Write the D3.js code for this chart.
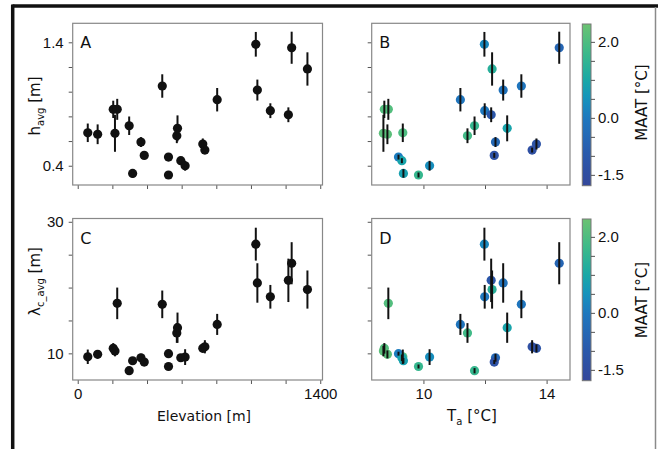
<!DOCTYPE html>
<html>
<head>
<meta charset="utf-8">
<script src="https://cdn.jsdelivr.net/npm/d3@7"></script>
<style>
  body { margin: 0; background: #fff; }
  svg { display: block; font-family: "DejaVu Sans", sans-serif; }
</style>
</head>
<body>
<svg id="chart" width="658" height="449"></svg>
<script>
// one entry per station, same order in every array
const elevation = [58, 115, 205, 228, 215, 297, 317, 365, 384, 488, 524, 524, 572, 576, 595, 620, 722, 734, 805, 1028, 1037, 1112, 1216, 1235, 1326];
const airTemp = [9.33, 8.83, 8.73, 8.86, 8.70, 11.66, 9.35, 12.34, 12.30, 13.18, 9.19, 9.84, 11.43, 12.72, 9.30, 10.20, 13.67, 13.53, 11.20, 11.98, 12.59, 11.99, 12.20, 14.41, 12.23];
const maat = [2.0, 2.2, 2.1, 2.1, 2.2, 1.6, 0.8, -0.5, -1.3, -0.1, 0.1, 1.6, 1.8, 0.9, 0.9, 0.4, -1.2, -1.4, -0.1, 0.3, -0.2, 0.0, -1.1, -0.6, 1.3];
const hAvg = [0.667, 0.655, 0.857, 0.857, 0.663, 0.724, 0.338, 0.592, 0.484, 1.046, 0.470, 0.325, 0.643, 0.703, 0.441, 0.400, 0.576, 0.527, 0.935, 1.384, 1.013, 0.846, 0.813, 1.356, 1.184];
const hErr = [0.075, 0.08, 0.07, 0.085, 0.15, 0.075, 0.035, 0.04, 0.02, 0.095, 0.02, 0.02, 0.06, 0.105, 0.02, 0.04, 0.045, 0.02, 0.095, 0.1, 0.085, 0.06, 0.06, 0.13, 0.135];
const lambdaAvg = [9.48, 9.85, 10.76, 17.6, 10.35, 7.36, 8.88, 9.33, 8.68, 17.45, 9.95, 8.0, 13.1, 13.9, 9.33, 9.43, 10.76, 11.0, 14.4, 26.6, 20.7, 18.6, 21.1, 23.7, 19.7];
const lambdaErr = [1.1, 0.6, 0.8, 2.4, 0.8, 0.4, 0.4, 0.6, 0.3, 2.1, 0.3, 0.3, 1.5, 2.3, 0.5, 1.2, 0.6, 1.0, 1.6, 2.5, 3.0, 1.8, 3.3, 3.2, 2.9];

const hTicks = [0.4, 0.6, 0.8, 1.0, 1.2, 1.4];
const hTickLabels = [0.4, 1.4];
const lambdaTicks = [10, 15, 20, 25, 30];
const lambdaTickLabels = [10, 30];
const elevTicks = [0, 200, 400, 600, 800, 1000, 1200, 1400];
const elevTickLabels = [0, 1400];
const tempTicks = [10, 12, 14];
const tempTickLabels = [10, 14];
const maatTicks = [-1.5, -1.0, -0.5, 0.0, 0.5, 1.0, 1.5, 2.0];
const maatTickLabels = [-1.5, 0.0, 2.0];

const stations = elevation.map((e, i) => ({
  elev: e,
  temp: airTemp[i],
  maat: maat[i],
  h: hAvg[i],
  hErr: hErr[i],
  lam: lambdaAvg[i],
  lamErr: lambdaErr[i],
}));

const svg = d3.select("#chart");

// figure frame
svg.append("line").attr("x1", 12.5).attr("x2", 658).attr("y1", 6).attr("y2", 6)
  .attr("stroke", "#111").attr("stroke-width", 3.5);
svg.append("line").attr("x1", 12.7).attr("x2", 12.7).attr("y1", 4.5).attr("y2", 449)
  .attr("stroke", "#111").attr("stroke-width", 3.5);
svg.append("line").attr("x1", 655.5).attr("x2", 655.5).attr("y1", 7).attr("y2", 449)
  .attr("stroke", "#8a8a8a").attr("stroke-width", 1.5);

const maatColor = d3.scaleLinear()
  .domain([-1.8, -1.0, 0.0, 0.5, 1.0, 1.7, 2.47])
  .range(["#34479a", "#2a58ab", "#1e78bf", "#1593bd", "#19a8a6", "#3bb98a", "#6cc272"]);

const leftCol = [72.7, 322.5];
const rightCol = [371.7, 570];
const topRow = [23.3, 185];
const bottomRow = [218.5, 380];

const xElev = d3.scaleLinear().domain([-29, 1413]).range(leftCol);
const xTemp = d3.scaleLinear().domain([8.32, 14.76]).range(rightCol);
const yH = d3.scaleLinear().domain([0.244, 1.554]).range([topRow[1], topRow[0]]);
const yLam = d3.scaleLinear().domain([5.95, 30.5]).range([bottomRow[1], bottomRow[0]]);

const fmt = (labels, f) => (d) => labels.includes(d) ? f(d) : "";

function styleAxis(g) {
  g.select(".domain").remove();
  g.selectAll(".tick line").attr("stroke", "#555").attr("stroke-width", 1);
  g.selectAll(".tick text").attr("fill", "#111").style("font-size", "15px");
}

function drawPanel(opt) {
  const { x, y, xKey, yKey, errKey, colored, letter, xFmt, yFmt, xTickVals, yTickVals } = opt;
  const g = svg.append("g");
  const [x0, x1] = x.range();
  const [y1, y0] = y.range();

  g.append("g").attr("transform", `translate(0,${y1})`)
    .call(d3.axisBottom(x).tickValues(xTickVals).tickSize(4).tickPadding(4).tickFormat(xFmt))
    .call(styleAxis);
  g.append("g").attr("transform", `translate(${x0},0)`)
    .call(d3.axisLeft(y).tickValues(yTickVals).tickSize(4).tickPadding(5).tickFormat(yFmt))
    .call(styleAxis);

  g.append("rect").attr("x", x0).attr("y", y0).attr("width", x1 - x0).attr("height", y1 - y0)
    .attr("fill", "none").attr("stroke", "#888").attr("stroke-width", 1.2);

  g.selectAll("circle").data(stations).join("circle")
    .attr("cx", d => x(d[xKey]))
    .attr("cy", d => y(d[yKey]))
    .attr("r", 4.6)
    .attr("fill", d => colored ? maatColor(d.maat) : "#111");

  g.selectAll("line.err").data(stations).join("line")
    .attr("class", "err")
    .attr("x1", d => x(d[xKey])).attr("x2", d => x(d[xKey]))
    .attr("y1", d => y(d[yKey] - d[errKey]))
    .attr("y2", d => y(d[yKey] + d[errKey]))
    .attr("stroke", "#111").attr("stroke-width", 2);

  g.append("text").attr("x", x0 + 7.5).attr("y", y0 + 25)
    .style("font-size", "16px").attr("fill", "#111").text(letter);
}

const none = () => "";

drawPanel({ x: xElev, y: yH, xKey: "elev", yKey: "h", errKey: "hErr", colored: false, letter: "A",
  xFmt: none, yFmt: fmt(hTickLabels, d => d.toFixed(1)), xTickVals: elevTicks, yTickVals: hTicks });
drawPanel({ x: xTemp, y: yH, xKey: "temp", yKey: "h", errKey: "hErr", colored: true, letter: "B",
  xFmt: none, yFmt: none, xTickVals: tempTicks, yTickVals: hTicks });
drawPanel({ x: xElev, y: yLam, xKey: "elev", yKey: "lam", errKey: "lamErr", colored: false, letter: "C",
  xFmt: fmt(elevTickLabels, d => d), yFmt: fmt(lambdaTickLabels, d => d), xTickVals: elevTicks, yTickVals: lambdaTicks });
drawPanel({ x: xTemp, y: yLam, xKey: "temp", yKey: "lam", errKey: "lamErr", colored: true, letter: "D",
  xFmt: fmt(tempTickLabels, d => d), yFmt: none, xTickVals: tempTicks, yTickVals: lambdaTicks });

// colorbars
const defs = svg.append("defs");
const grad = defs.append("linearGradient").attr("id", "maatGrad")
  .attr("x1", 0).attr("y1", 1).attr("x2", 0).attr("y2", 0);
const cDomain = [-1.785, 2.47];
d3.range(0, 1.0001, 0.05).forEach(t => {
  grad.append("stop").attr("offset", t).attr("stop-color", maatColor(cDomain[0] + t * (cDomain[1] - cDomain[0])));
});

function drawColorbar(y0, y1, labelY) {
  const cx0 = 582.3, cx1 = 591;
  const c = d3.scaleLinear().domain(cDomain).range([y1, y0]);
  const g = svg.append("g");
  g.append("rect").attr("x", cx0).attr("y", y0).attr("width", cx1 - cx0).attr("height", y1 - y0)
    .attr("fill", "url(#maatGrad)").attr("stroke", "#777").attr("stroke-width", 1);
  g.append("g").attr("transform", `translate(${cx1},0)`)
    .call(d3.axisRight(c).tickValues(maatTicks).tickSize(4).tickPadding(3)
      .tickFormat(fmt(maatTickLabels, d => d.toFixed(1))))
    .call(styleAxis);
  g.append("text").attr("transform", `translate(646.5,${labelY}) rotate(-90)`)
    .attr("text-anchor", "middle").style("font-size", "15px").attr("fill", "#111")
    .text("MAAT [°C]");
}
drawColorbar(24, 185.7, 102.5);
drawColorbar(219, 380.7, 300);

// axis titles
function subLabel(parent, main, sub, rest) {
  parent.append("tspan").text(main);
  parent.append("tspan").attr("dy", 4).style("font-size", "10px").text(sub);
  parent.append("tspan").attr("dy", -4).text(rest);
}

const hLabel = svg.append("text").attr("transform", "translate(39.5,106) rotate(-90)")
  .attr("text-anchor", "middle").style("font-size", "15px").attr("fill", "#111");
subLabel(hLabel, "h", "avg", " [m]");

const lamLabel = svg.append("text").attr("transform", "translate(39.5,281.5) rotate(-90)")
  .attr("text-anchor", "middle").style("font-size", "15px").attr("fill", "#111");
subLabel(lamLabel, "λ", "c_avg", " [m]");

svg.append("text").attr("x", 204).attr("y", 421).attr("text-anchor", "middle")
  .style("font-size", "14px").attr("fill", "#111").text("Elevation [m]");

const tLabel = svg.append("text").attr("x", 472).attr("y", 421).attr("text-anchor", "middle")
  .style("font-size", "15px").attr("fill", "#111");
subLabel(tLabel, "T", "a", " [°C]");
</script>
</body>
</html>
